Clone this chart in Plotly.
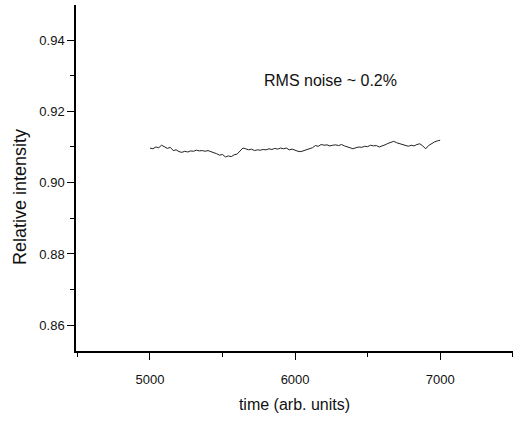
import plotly.graph_objects as go

time = list(range(5000, 7001, 20))
intensity = [
    0.9097, 0.9095, 0.9100, 0.9098, 0.9105, 0.9101, 0.9096, 0.9099, 0.9090, 0.9092,
    0.9087, 0.9085, 0.9088, 0.9086, 0.9089, 0.9088, 0.9091, 0.9089, 0.9090, 0.9088,
    0.9090, 0.9087, 0.9085, 0.9081, 0.9077, 0.9079, 0.9072, 0.9075, 0.9073, 0.9078,
    0.9080, 0.9088, 0.9097, 0.9095, 0.9092, 0.9094, 0.9090, 0.9092, 0.9091, 0.9093,
    0.9092, 0.9095, 0.9093, 0.9096, 0.9094, 0.9097, 0.9095, 0.9097, 0.9092, 0.9094,
    0.9090, 0.9088, 0.9087, 0.9090, 0.9093, 0.9095, 0.9098, 0.9104, 0.9102, 0.9107,
    0.9105, 0.9106, 0.9103, 0.9105, 0.9106, 0.9104, 0.9107, 0.9103, 0.9100, 0.9097,
    0.9095, 0.9098, 0.9100, 0.9099, 0.9102, 0.9101, 0.9105, 0.9103, 0.9104, 0.9100,
    0.9102, 0.9106, 0.9110, 0.9114, 0.9116, 0.9112, 0.9109, 0.9106, 0.9104, 0.9102,
    0.9105, 0.9103, 0.9107, 0.9109, 0.9103, 0.9095, 0.9104, 0.9110, 0.9114, 0.9117,
    0.9119,
]

x_ticks = [5000, 6000, 7000]
y_ticks = [0.86, 0.88, 0.90, 0.92, 0.94]
y_tick_labels = ["0.86", "0.88", "0.90", "0.92", "0.94"]

FONT = "Liberation Sans, Arial, sans-serif"

fig = go.Figure()
fig.add_trace(go.Scatter(
    x=time, y=intensity, mode="lines",
    line=dict(color="#222222", width=1),
    showlegend=False,
))

fig.add_annotation(
    x=6243, y=0.9287, text="RMS noise ~ 0.2%", showarrow=False,
    font=dict(family=FONT, size=16, color="#111111"),
)

# y-axis title (placed as rotated text to match the reference position)
fig.add_annotation(
    xref="paper", yref="paper", x=-0.128, y=0.445,
    text="Relative intensity", textangle=-90, showarrow=False,
    xanchor="center", yanchor="middle",
    font=dict(family=FONT, size=18, color="#111111"),
)

fig.update_layout(
    width=516, height=421,
    margin=dict(l=76, r=3, t=5, b=70),
    paper_bgcolor="white", plot_bgcolor="white",
    font=dict(family=FONT, color="#111111"),
)

fig.update_xaxes(
    range=[4490, 7502],
    tickvals=x_ticks,
    ticks="outside", ticklen=7, tickwidth=1.3, tickcolor="black",
    ticklabelstandoff=9,
    showline=True, linecolor="black", linewidth=1.5,
    showgrid=False, zeroline=False,
    tickfont=dict(size=13),
    title=dict(text="time (arb. units)", font=dict(size=16), standoff=12),
    minor=dict(tickvals=[4500, 5500, 6500, 7500], ticks="outside", ticklen=4, tickcolor="black", tickwidth=1.3),
)
fig.update_yaxes(
    range=[0.85279, 0.94982],
    tickvals=y_ticks, ticktext=y_tick_labels,
    ticks="outside", ticklen=7, tickwidth=1.3, tickcolor="black",
    showline=True, linecolor="black", linewidth=1.5,
    showgrid=False, zeroline=False,
    tickfont=dict(size=13),
    minor=dict(tickvals=[0.87, 0.89, 0.91, 0.93], ticks="outside", ticklen=4, tickcolor="black", tickwidth=1.3),
)

fig.write_html("out.html")
